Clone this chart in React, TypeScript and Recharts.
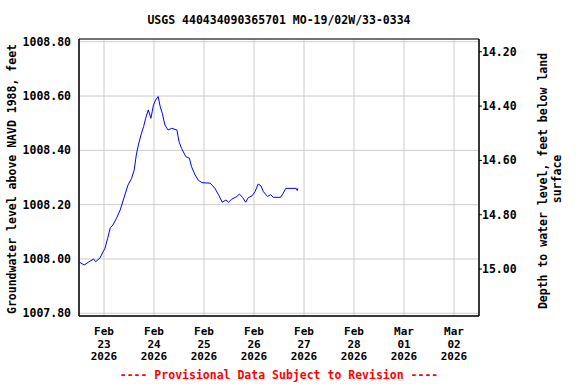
import React from 'react';
import { LineChart, Line, XAxis, YAxis, CartesianGrid, ReferenceArea } from 'recharts';

// groundwater level readings (feet above NAVD 1988), UTC timestamps
const times = [
  '2026-02-22T12:15', '2026-02-22T14:30', '2026-02-22T16:30', '2026-02-22T19:00', '2026-02-22T20:00',
  '2026-02-22T22:00', '2026-02-23T00:30', '2026-02-23T01:45', '2026-02-23T03:00', '2026-02-23T04:15',
  '2026-02-23T06:00', '2026-02-23T07:45', '2026-02-23T09:15', '2026-02-23T11:30', '2026-02-23T13:15',
  '2026-02-23T14:30', '2026-02-23T15:30', '2026-02-23T16:30', '2026-02-23T17:45', '2026-02-23T19:00',
  '2026-02-23T20:00', '2026-02-23T21:15', '2026-02-23T22:30', '2026-02-23T23:45', '2026-02-24T00:45',
  '2026-02-24T02:00', '2026-02-24T03:00', '2026-02-24T04:00', '2026-02-24T05:15', '2026-02-24T06:45',
  '2026-02-24T08:30', '2026-02-24T11:00', '2026-02-24T12:00', '2026-02-24T13:15', '2026-02-24T15:15',
  '2026-02-24T17:00', '2026-02-24T18:00', '2026-02-24T19:45', '2026-02-24T21:15', '2026-02-24T23:00',
  '2026-02-25T03:00', '2026-02-25T05:15', '2026-02-25T07:00', '2026-02-25T08:45', '2026-02-25T10:30',
  '2026-02-25T11:45', '2026-02-25T13:15', '2026-02-25T15:45', '2026-02-25T17:00', '2026-02-25T18:30',
  '2026-02-25T20:00', '2026-02-25T21:15', '2026-02-25T23:00', '2026-02-26T00:30', '2026-02-26T02:00',
  '2026-02-26T03:15', '2026-02-26T04:30', '2026-02-26T06:30', '2026-02-26T08:00', '2026-02-26T09:15',
  '2026-02-26T12:45', '2026-02-26T14:00', '2026-02-26T15:15', '2026-02-26T20:15', '2026-02-26T20:45',
  '2026-02-26T21:00',
];
const levels = [
  1007.988, 1007.978, 1007.988, 1008.0, 1007.99,
  1008.003, 1008.04, 1008.076, 1008.115, 1008.125,
  1008.15, 1008.18, 1008.217, 1008.272, 1008.297,
  1008.328, 1008.383, 1008.42, 1008.457, 1008.487,
  1008.518, 1008.549, 1008.518, 1008.567, 1008.585,
  1008.598, 1008.56, 1008.536, 1008.493, 1008.475,
  1008.481, 1008.475, 1008.432, 1008.407, 1008.377,
  1008.371, 1008.34, 1008.309, 1008.29, 1008.281,
  1008.279, 1008.26, 1008.236, 1008.209, 1008.217,
  1008.209, 1008.22, 1008.23, 1008.239, 1008.227,
  1008.209, 1008.226, 1008.232, 1008.248, 1008.276,
  1008.27, 1008.248, 1008.23, 1008.237, 1008.227,
  1008.227, 1008.242, 1008.26, 1008.26, 1008.252,
  1008.26,
];

const tickDates = [
  '2026-02-23', '2026-02-24', '2026-02-25', '2026-02-26',
  '2026-02-27', '2026-02-28', '2026-03-01', '2026-03-02',
];
const levelTicks = [1007.8, 1008.0, 1008.2, 1008.4, 1008.6, 1008.8];
const depthTicks = [14.2, 14.4, 14.6, 14.8, 15.0];
const landSurface = 1022.963;

const MONTHS = ['Jan', 'Feb', 'Mar', 'Apr', 'May', 'Jun', 'Jul', 'Aug', 'Sep', 'Oct', 'Nov', 'Dec'];
const FONT = "'DejaVu Sans Mono', monospace";

const toMs = (s: string) => Date.parse(s.length > 10 ? s + ':00Z' : s + 'T00:00:00Z');

const data = times.map((t, i) => ({ t: toMs(t), level: levels[i] }));
const xTicks = tickDates.map(toMs);
const xMin = Date.UTC(2026, 1, 22, 12);
const xMax = Date.UTC(2026, 2, 2, 12);
const yMin = 1007.79;
const yMax = 1008.81;

function DateTick(props: any) {
  const { x, payload } = props;
  const d = new Date(payload.value);
  const day = String(d.getUTCDate()).padStart(2, '0');
  // fixed baselines just under the plot frame (bottom at 316)
  return (
    <text x={x} y={335} textAnchor="middle" fontFamily={FONT} fontWeight="bold" fontSize={11} fill="#000">
      <tspan x={x} y={335}>{MONTHS[d.getUTCMonth()]}</tspan>
      <tspan x={x} y={347.5}>{day}</tspan>
      <tspan x={x} y={360}>{d.getUTCFullYear()}</tspan>
    </text>
  );
}

const tickStyle = { fontFamily: FONT, fontWeight: 'bold', fontSize: 11.5, fill: '#000' };

export default function App() {
  return (
    <div style={{ position: 'absolute', left: 0, top: 0, width: 576, height: 384, background: '#fff' }}>
      <LineChart width={576} height={384} data={data} margin={{ top: 39, right: 37, bottom: 18, left: 19 }}>
        <CartesianGrid yAxisId="left" stroke="#cccccc" strokeWidth={1} />
        <XAxis
          dataKey="t"
          type="number"
          scale="time"
          domain={[xMin, xMax]}
          ticks={xTicks}
          tick={<DateTick />}
          tickLine={false}
          axisLine={{ stroke: '#000' }}
          height={50}
          interval={0}
          allowDataOverflow
        />
        <YAxis
          yAxisId="left"
          type="number"
          domain={[yMin, yMax]}
          ticks={levelTicks}
          tickFormatter={(v: number) => v.toFixed(2)}
          tick={tickStyle}
          tickLine={false}
          tickMargin={2}
          axisLine={{ stroke: '#000' }}
          width={60}
          interval={0}
          allowDataOverflow
        />
        <YAxis
          yAxisId="right"
          orientation="right"
          type="number"
          reversed
          domain={[landSurface - yMax, landSurface - yMin]}
          ticks={depthTicks}
          tickFormatter={(v: number) => v.toFixed(2)}
          tick={{ ...tickStyle, textAnchor: 'start' }}
          tickSize={3}
          tickMargin={0}
          tickLine={{ stroke: '#000' }}
          axisLine={{ stroke: '#000' }}
          width={60}
          interval={0}
          allowDataOverflow
        />
        <ReferenceArea
          yAxisId="left"
          x1={xMin}
          x2={xMax}
          y1={yMin}
          y2={yMax}
          fill="none"
          stroke="#000"
          strokeWidth={1}
          ifOverflow="visible"
        />
        <Line
          yAxisId="left"
          type="linear"
          dataKey="level"
          stroke="#0000ff"
          strokeWidth={1}
          dot={false}
          isAnimationActive={false}
        />
      </LineChart>
      <svg
        width={576}
        height={384}
        style={{ position: 'absolute', left: 0, top: 0, pointerEvents: 'none' }}
        fontFamily={FONT}
        fontWeight="bold"
        fontSize={11.5}
      >
        <text x={279} y={24} textAnchor="middle" fill="#000">
          USGS 440434090365701 MO-19/02W/33-0334
        </text>
        <text x={16} y={179} textAnchor="middle" fill="#000" transform="rotate(-90 16 179)">
          Groundwater level above NAVD 1988, feet
        </text>
        <text x={547} y={181} textAnchor="middle" fill="#000" transform="rotate(-90 547 181)">
          Depth to water level, feet below land
        </text>
        <text x={561} y={179} textAnchor="middle" fill="#000" transform="rotate(-90 561 179)">
          surface
        </text>
        <text x={279} y={379} textAnchor="middle" fill="#ff0000">
          ---- Provisional Data Subject to Revision ----
        </text>
      </svg>
    </div>
  );
}
